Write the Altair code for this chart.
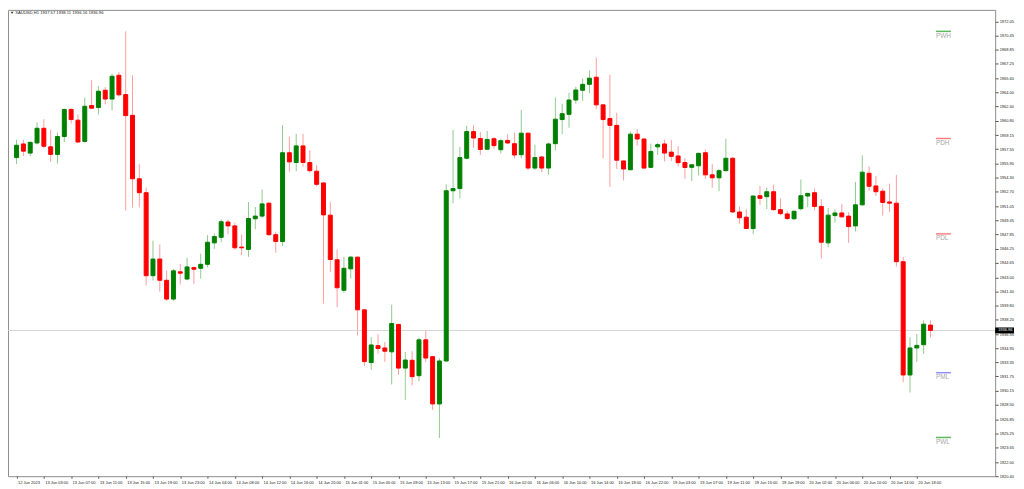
import altair as alt
import pandas as pd

# ---------------- data ----------------
open_ = [1956.60, 1958.15, 1957.11, 1958.26, 1959.93, 1957.82, 1956.96, 1958.99, 1962.07, 1960.85,
         1958.44, 1962.51, 1962.29, 1964.25, 1963.25, 1965.95, 1963.76, 1961.40, 1954.19, 1952.61,
         1943.18, 1945.07, 1942.66, 1940.52, 1943.62, 1942.80, 1944.10, 1944.02, 1944.47, 1946.91,
         1947.54, 1949.28, 1948.84, 1946.43, 1946.17, 1949.65, 1949.95, 1951.42, 1947.84, 1947.06,
         1957.15, 1956.04, 1957.93, 1956.04, 1955.05, 1953.72, 1950.06, 1944.99, 1941.52, 1943.96,
         1945.29, 1939.30, 1933.31, 1935.23, 1934.97, 1934.53, 1937.64, 1932.68, 1933.57, 1931.82,
         1935.89, 1933.98, 1928.61, 1933.49, 1952.83, 1953.08, 1956.52, 1959.55, 1958.77, 1957.55,
         1958.74, 1957.49, 1958.55, 1958.18, 1956.93, 1959.37, 1955.41, 1956.67, 1955.41, 1958.18,
         1960.92, 1961.51, 1963.14, 1964.25, 1964.92, 1965.73, 1962.59, 1961.04, 1960.26, 1956.22,
         1955.22, 1959.26, 1958.71, 1955.49, 1957.82, 1958.15, 1957.22, 1956.78, 1956.04, 1955.49,
         1955.67, 1957.15, 1954.64, 1954.30, 1955.11, 1956.52, 1950.42, 1949.83, 1948.54, 1952.27,
         1952.16, 1952.72, 1950.68, 1950.20, 1949.65, 1950.79, 1952.23, 1952.61, 1951.05, 1946.91,
         1950.01, 1950.31, 1949.95, 1948.84, 1951.23, 1954.82, 1953.38, 1952.78, 1951.56, 1951.42,
         1944.77, 1931.90, 1934.97, 1935.34, 1937.57]

high = [1958.63, 1958.63, 1958.40, 1960.59, 1960.96, 1959.74, 1959.44, 1962.15, 1962.21, 1961.48,
        1963.43, 1965.39, 1964.73, 1964.62, 1966.14, 1966.31, 1970.94, 1965.95, 1955.86, 1953.19,
        1947.17, 1946.73, 1943.77, 1943.96, 1944.51, 1945.21, 1944.21, 1945.69, 1947.79, 1947.98,
        1949.57, 1949.57, 1949.20, 1947.84, 1951.56, 1950.98, 1952.97, 1951.50, 1948.17, 1960.29,
        1958.96, 1959.29, 1959.29, 1957.44, 1955.75, 1953.80, 1951.56, 1946.17, 1945.32, 1945.43,
        1945.35, 1939.35, 1936.19, 1936.53, 1935.64, 1939.89, 1937.75, 1934.53, 1934.60, 1936.15,
        1936.93, 1934.05, 1933.79, 1953.56, 1959.74, 1957.82, 1960.21, 1960.29, 1959.48, 1959.63,
        1958.93, 1958.74, 1959.26, 1959.44, 1962.03, 1959.45, 1958.07, 1956.75, 1958.30, 1963.43,
        1962.70, 1963.98, 1964.65, 1965.58, 1966.50, 1967.94, 1962.65, 1966.03, 1961.70, 1956.30,
        1959.55, 1959.82, 1958.80, 1958.18, 1958.25, 1958.63, 1958.63, 1957.89, 1956.52, 1955.86,
        1957.15, 1957.52, 1955.86, 1955.30, 1958.74, 1956.67, 1951.05, 1950.75, 1952.30, 1953.38,
        1953.19, 1953.53, 1951.97, 1950.57, 1950.57, 1954.11, 1952.60, 1953.08, 1951.86, 1950.87,
        1950.75, 1951.34, 1950.39, 1953.83, 1956.85, 1955.60, 1954.49, 1953.08, 1953.64, 1954.64,
        1945.32, 1936.19, 1936.56, 1938.11, 1938.11]

low = [1955.86, 1956.78, 1956.78, 1958.10, 1957.63, 1956.11, 1955.93, 1958.37, 1960.48, 1958.26,
       1958.30, 1962.14, 1961.48, 1962.65, 1961.96, 1963.54, 1950.57, 1950.94, 1950.94, 1942.10,
       1942.63, 1941.36, 1940.33, 1940.33, 1942.18, 1942.66, 1942.25, 1942.85, 1944.13, 1946.24,
       1946.98, 1947.90, 1946.13, 1945.51, 1945.32, 1948.46, 1949.76, 1947.73, 1945.80, 1946.54,
       1955.00, 1955.05, 1955.56, 1954.89, 1953.34, 1940.03, 1943.58, 1939.59, 1941.25, 1942.85,
       1936.37, 1932.93, 1932.49, 1934.31, 1933.38, 1930.83, 1931.93, 1929.05, 1930.71, 1931.16,
       1933.38, 1927.94, 1924.73, 1933.40, 1951.42, 1951.97, 1956.41, 1957.71, 1956.89, 1957.50,
       1957.60, 1957.08, 1958.15, 1956.52, 1956.52, 1955.19, 1955.19, 1954.94, 1954.67, 1957.41,
       1959.26, 1959.99, 1962.70, 1963.06, 1963.92, 1962.14, 1956.49, 1953.27, 1955.30, 1954.00,
       1955.15, 1957.96, 1955.35, 1955.40, 1956.89, 1956.16, 1956.22, 1955.60, 1954.19, 1953.94,
       1954.56, 1954.19, 1953.16, 1952.78, 1955.05, 1950.31, 1949.09, 1948.46, 1947.90, 1951.23,
       1950.75, 1950.57, 1950.06, 1949.50, 1949.50, 1950.61, 1950.98, 1950.61, 1945.13, 1946.43,
       1949.20, 1949.76, 1946.91, 1948.20, 1951.15, 1952.83, 1952.23, 1950.01, 1950.42, 1944.21,
       1931.09, 1929.91, 1933.38, 1934.31, 1936.16]

close = [1958.00, 1957.33, 1958.33, 1959.93, 1957.89, 1956.96, 1958.99, 1962.07, 1960.92, 1958.37,
         1962.43, 1962.21, 1964.14, 1963.25, 1965.84, 1963.73, 1961.37, 1954.19, 1952.61, 1943.18,
         1945.07, 1942.66, 1940.52, 1943.73, 1943.47, 1944.18, 1943.91, 1944.47, 1946.98, 1947.62,
         1949.31, 1948.84, 1946.35, 1946.35, 1949.68, 1949.95, 1951.34, 1947.84, 1947.06, 1957.15,
         1956.11, 1957.93, 1956.04, 1955.11, 1953.56, 1950.09, 1945.02, 1941.81, 1944.02, 1945.29,
         1939.30, 1933.42, 1935.31, 1934.90, 1934.60, 1937.75, 1932.68, 1933.60, 1931.71, 1935.89,
         1933.82, 1928.61, 1933.49, 1952.83, 1953.08, 1956.60, 1959.55, 1958.82, 1957.52, 1958.66,
         1957.96, 1958.52, 1958.26, 1956.89, 1959.37, 1955.41, 1956.60, 1955.41, 1958.15, 1960.96,
         1961.59, 1963.14, 1964.28, 1964.92, 1965.62, 1962.59, 1960.92, 1960.26, 1956.30, 1955.30,
         1959.26, 1958.71, 1955.41, 1957.30, 1958.07, 1957.11, 1956.74, 1956.02, 1955.47, 1955.78,
         1957.08, 1954.64, 1954.30, 1955.11, 1956.52, 1950.42, 1949.76, 1948.54, 1952.23, 1951.97,
         1952.72, 1950.68, 1950.23, 1949.68, 1950.50, 1952.27, 1952.53, 1951.05, 1946.98, 1950.06,
         1950.31, 1949.87, 1948.76, 1951.23, 1954.94, 1953.34, 1952.72, 1951.50, 1951.42, 1944.77,
         1931.90, 1934.97, 1935.26, 1937.67, 1936.96]

x_labels = ["12 Jun 2023", "13 Jun 03:00", "13 Jun 07:00", "13 Jun 11:00", "13 Jun 15:00",
            "13 Jun 19:00", "13 Jun 23:00", "14 Jun 04:00", "14 Jun 08:00", "14 Jun 12:00",
            "14 Jun 16:00", "14 Jun 20:00", "15 Jun 01:00", "15 Jun 05:00", "15 Jun 09:00",
            "15 Jun 13:00", "15 Jun 17:00", "15 Jun 21:00", "16 Jun 02:00", "16 Jun 06:00",
            "16 Jun 10:00", "16 Jun 14:00", "16 Jun 18:00", "16 Jun 22:00", "19 Jun 03:00",
            "19 Jun 07:00", "19 Jun 11:00", "19 Jun 15:00", "19 Jun 19:00", "20 Jun 02:00",
            "20 Jun 06:00", "20 Jun 10:00", "20 Jun 14:00", "20 Jun 18:00"]

y_ticks = [1972.05, 1970.45, 1968.85, 1967.25, 1965.60, 1964.00, 1962.40, 1960.80, 1959.15,
           1957.55, 1955.90, 1954.30, 1952.70, 1951.05, 1949.45, 1947.85, 1946.25, 1944.65,
           1943.00, 1941.40, 1939.80, 1938.20, 1936.55, 1934.95, 1933.35, 1931.75, 1930.15,
           1928.50, 1926.85, 1925.25, 1923.65, 1922.00, 1920.40]

level_names = ["PWH", "PDH", "PDL", "PML", "PWL"]
level_prices = [1970.94, 1958.77, 1947.93, 1932.16, 1924.80]
level_colors = ["#5cb85c", "#ff8080", "#ff8080", "#8f8fff", "#5cb85c"]

header_text = ["\u25BC XAUUSD,H1  1937.57 1938.11 1936.16 1936.96"]
last_price = [1936.96]

# ---------------- frames ----------------
df = pd.DataFrame({"i": list(range(len(open_))), "open": open_, "high": high,
                   "low": low, "close": close})
lv = pd.DataFrame({"name": level_names, "price": level_prices})
lp = pd.DataFrame({"p": last_price})
hd = pd.DataFrame({"t": header_text})

W, H = 995, 470
FONT = "Liberation Sans"

xscale = alt.Scale(domain=[-0.53, 142.76], nice=False, zero=False)
yscale = alt.Scale(domain=[1920.40, 1973.38], nice=False, zero=False)

lab_arr = "[" + ",".join("'" + s + "'" for s in x_labels) + "]"
x_axis = alt.Axis(values=list(range(0, 4 * len(x_labels), 4)), tickCount=1000,
                  labelExpr=lab_arr + "[round(datum.value / 4)]",
                  orient="bottom", title=None, grid=False, domain=False,
                  tickSize=2, tickColor="#555555", labelAlign="left", labelBaseline="top",
                  labelPadding=2, labelOffset=1, labelFontSize=4, labelFont=FONT,
                  labelColor="#222222", labelOverlap=False, labelFlush=False,
                  labelSeparation=0)
y_axis = alt.Axis(values=y_ticks, tickCount=1000, format=".2f", orient="right", title=None,
                  grid=False, domain=False, tickSize=3, tickColor="#555555", labelPadding=1,
                  labelFontSize=4, labelFont=FONT, labelColor="#222222",
                  labelOverlap=False, labelFlush=False, labelSeparation=0)

up = "datum.close >= datum.open"

wicks = alt.Chart(df).mark_rule(strokeWidth=1, clip=True).encode(
    x=alt.X("i:Q", scale=xscale, axis=x_axis),
    y=alt.Y("low:Q", scale=yscale, axis=y_axis),
    y2="high:Q",
    color=alt.condition(up, alt.value("#8fc98f"), alt.value("#ff9c9c")))

bid_line = alt.Chart(lp).mark_rule(color="#d4d4d4", strokeWidth=1).encode(
    y=alt.Y("p:Q", scale=yscale))

bodies = alt.Chart(df).mark_bar(size=4, strokeWidth=1, clip=True).encode(
    x=alt.X("i:Q", scale=xscale),
    y=alt.Y("open:Q", scale=yscale),
    y2="close:Q",
    fill=alt.condition(up, alt.value("#008000"), alt.value("#ff0000")),
    stroke=alt.condition(up, alt.value("#008000"), alt.value("#ff0000")))

level_lines = alt.Chart(lv).mark_rule(strokeWidth=1.5).encode(
    x=alt.datum(134.8), x2=alt.datum(137.0),
    y=alt.Y("price:Q", scale=yscale),
    color=alt.Color("name:N", scale=alt.Scale(domain=level_names, range=level_colors),
                    legend=None))

level_text = alt.Chart(lv).mark_text(align="left", baseline="top", dy=1.5, fontSize=6.5,
                                     font=FONT, color="#a8a8a8").encode(
    x=alt.datum(134.8), y=alt.Y("price:Q", scale=yscale), text="name:N")

price_box = alt.Chart(lp).mark_rect(color="#000000", yOffset=-3, y2Offset=3).encode(
    x=alt.value(W), x2=alt.value(W + 19),
    y=alt.Y("p:Q", scale=yscale), y2="p:Q")

price_text = alt.Chart(lp).mark_text(align="left", baseline="middle", fontSize=4,
                                     font=FONT, color="#ffffff").encode(
    x=alt.value(W + 3), y=alt.Y("p:Q", scale=yscale), text=alt.Text("p:Q", format=".2f"))

header = alt.Chart(hd).mark_text(align="left", baseline="middle", fontSize=4.2, font=FONT,
                                 color="#222222").encode(
    x=alt.value(2), y=alt.value(3), text="t:N")

chart = alt.layer(wicks, bid_line, bodies, level_lines, level_text, price_box, price_text,
                  header).properties(
    width=W, height=H, background="#ffffff",
    autosize=alt.AutoSizeParams(type="none"),
    padding={"left": 0, "top": 0, "right": 21, "bottom": 11}
).configure_view(stroke="#8c8c8c", strokeWidth=1).configure_axis(
    labelOverlap=False, labelSeparation=0, labelFlush=False)

chart.save("out.html", embed_options={"renderer": "svg", "actions": False})
